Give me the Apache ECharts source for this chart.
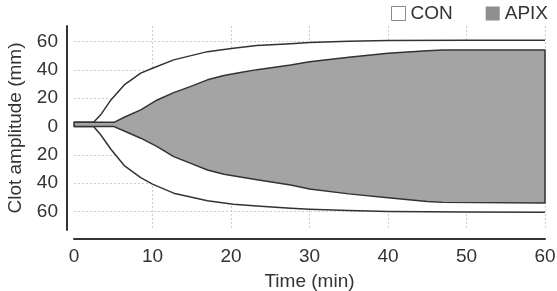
<!DOCTYPE html>
<html><head><meta charset="utf-8">
<script src="https://cdn.jsdelivr.net/npm/echarts@6/dist/echarts.min.js"></script>
<style>html,body{margin:0;padding:0;background:#fff}#c{width:557px;height:291px}</style>
</head><body><div id="c"></div>
<script>
// Time (min) and clot amplitude (mm) envelopes
const conTime  = [0, 2.5, 3.4, 4.7, 6.4, 8.5, 10, 12.7, 17, 20.3, 23.3, 27.6, 30, 35, 40, 50, 60];
const conUpper = [3, 3, 8.3, 18.8, 29.4, 37.7, 41.2, 47.1, 52.9, 55.3, 57.2, 58.4, 59.3, 60.2, 60.7, 61, 61];
const conLower = [0, 0, -5.8, -16, -27.5, -36, -40.6, -47, -52.4, -54.8, -56.1, -57.6, -58.3, -59.3, -60, -60.3, -60.4];

const apixTime  = [0, 5.1, 6.4, 8.5, 10.6, 12.7, 14.8, 17, 19.1, 21.2, 23.3, 27.6, 30, 35, 40, 45, 47, 60];
const apixUpper = [3, 3, 6.6, 11.8, 18.8, 24, 28.2, 33, 36, 38.2, 40.2, 43.5, 45.7, 49, 51.8, 53.5, 54, 54];
const apixLower = [0, 0, -3.1, -8.2, -14.1, -21.2, -25.8, -30.6, -33.6, -35.6, -37.6, -41.2, -44, -47.5, -50.3, -52.8, -53.5, -54];

const yTickValues = [-60, -40, -20, 0, 20, 40, 60];
const xTickInterval = 10;
const seriesNames = ['CON', 'APIX'];

const FONT = 'Liberation Sans, Arial, sans-serif';
const TXT = '#333';
const OUT = '#333';
const GRAY = '#a4a4a4';

// one data row per time point: [time, upper, lower]
const rows = (xs, up, lo) => xs.map((x, i) => [x, up[i], lo[i]]);

function envelopeRenderer(fill, closed) {
  return function (params, api) {
    if (params.dataIndexInside !== 0) return null;
    const n = params.dataInsideLength;
    const up = [], lo = [];
    for (let i = 0; i < n; i++) {
      up.push(api.coord([api.value(0, i), api.value(1, i)]));
      lo.push(api.coord([api.value(0, i), api.value(2, i)]));
    }
    const poly = up.concat(lo.slice().reverse());
    const children = [{
      type: 'polygon', shape: {points: poly},
      style: {fill: fill, stroke: closed ? OUT : null, lineWidth: 1.5, lineJoin: 'round'}
    }];
    if (!closed) {
      children.push({type: 'polyline', shape: {points: up}, style: {fill: null, stroke: OUT, lineWidth: 1.5, lineJoin: 'round'}});
      children.push({type: 'polyline', shape: {points: lo}, style: {fill: null, stroke: OUT, lineWidth: 1.5, lineJoin: 'round'}});
    }
    return {type: 'group', children: children};
  };
}

const chart = echarts.init(document.getElementById('c'), null, {renderer: 'canvas'});
chart.setOption({
  animation: false,
  backgroundColor: '#fff',
  textStyle: {fontFamily: FONT},
  legend: {
    right: 4, top: -1, itemWidth: 14, itemHeight: 14, itemGap: 33, selectedMode: false,
    icon: 'rect',
    textStyle: {fontSize: 19, color: TXT, fontFamily: FONT},
    data: [
      {name: seriesNames[0], itemStyle: {color: '#fff', borderColor: '#888', borderWidth: 1}},
      {name: seriesNames[1], itemStyle: {color: '#8f8f8f', borderWidth: 0}}
    ]
  },
  grid: {left: 74, right: 12, top: 26, bottom: 61, containLabel: false, outerBoundsMode: 'none'},
  xAxis: {
    type: 'value', min: 0, max: 60, interval: xTickInterval, offset: 9,
    name: 'Time (min)', nameLocation: 'middle', nameGap: 33,
    nameTextStyle: {fontSize: 19, color: TXT, fontFamily: FONT},
    axisLine: {show: true, onZero: false, lineStyle: {color: '#333', width: 2}},
    axisTick: {show: false},
    axisLabel: {fontSize: 19, color: TXT, margin: 8, fontFamily: FONT},
    splitLine: {show: true, showMinLine: false, lineStyle: {color: '#cfcfcf', type: [2, 2], width: 1}}
  },
  yAxis: {
    type: 'value', min: -73, max: 71, offset: 7,
    name: 'Clot amplitude (mm)', nameLocation: 'middle', nameGap: 42,
    nameTextStyle: {fontSize: 19, color: TXT, fontFamily: FONT},
    axisLine: {show: true, onZero: false, lineStyle: {color: '#333', width: 2}},
    axisTick: {show: false, customValues: yTickValues},
    axisLabel: {fontSize: 19, color: TXT, margin: 9, fontFamily: FONT,
      customValues: yTickValues, formatter: v => String(Math.abs(v))},
    splitLine: {show: true, lineStyle: {color: '#cfcfcf', type: [2, 2], width: 1}}
  },
  series: [
    {name: seriesNames[0], type: 'custom', z: 2, silent: true,
     itemStyle: {color: '#fff', borderColor: '#888'},
     encode: {x: 0, y: [1, 2]},
     data: rows(conTime, conUpper, conLower),
     renderItem: envelopeRenderer('#fff', false)},
    {name: seriesNames[1], type: 'custom', z: 3, silent: true,
     itemStyle: {color: GRAY},
     encode: {x: 0, y: [1, 2]},
     data: rows(apixTime, apixUpper, apixLower),
     renderItem: envelopeRenderer(GRAY, true)}
  ]
});
</script>
</body></html>
